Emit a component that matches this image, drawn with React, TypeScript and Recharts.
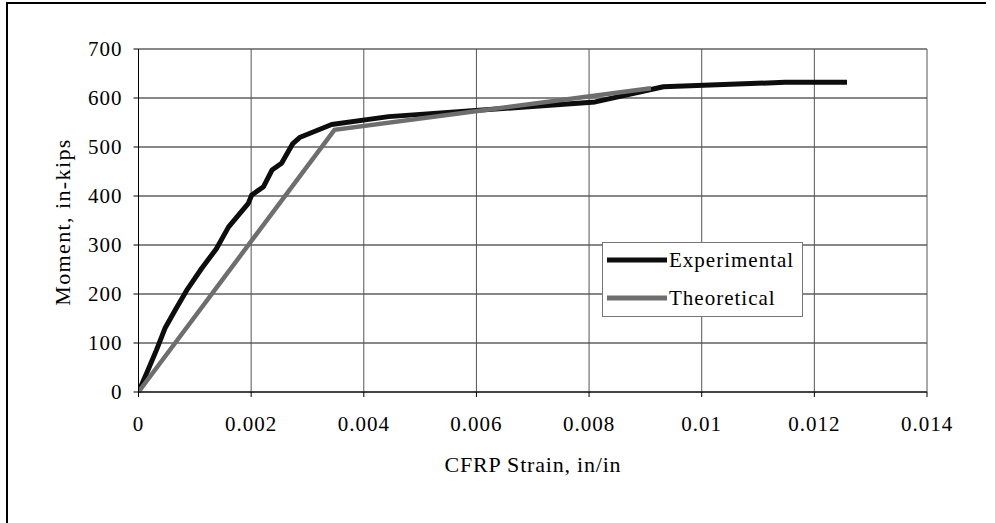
import React from 'react';
import { LineChart, Line, XAxis, YAxis, CartesianGrid } from 'recharts';

const expStrain = [0, 0.00015, 0.00032, 0.00047, 0.00065, 0.00087, 0.00112, 0.00138, 0.0016, 0.00195, 0.00201, 0.00222, 0.00237, 0.00254, 0.00274, 0.00287, 0.00343, 0.00444, 0.00811, 0.00932, 0.01148, 0.01258];
const expMoment = [0, 40, 86, 130, 167, 210, 252, 292, 337, 385, 402, 419, 453, 467, 507, 520, 546, 562, 592, 623, 632, 632];
const theoStrain = [0, 0.00348, 0.0091];
const theoMoment = [0, 535, 620];
const xTicks = [0, 0.002, 0.004, 0.006, 0.008, 0.01, 0.012, 0.014];
const yTicks = [0, 100, 200, 300, 400, 500, 600, 700];
const seriesNames = ['Experimental', 'Theoretical'];

const expData = expStrain.map((x, i) => ({ x, y: expMoment[i] }));
const theoData = theoStrain.map((x, i) => ({ x, y: theoMoment[i] }));

const FONT = '"Liberation Serif", "Times New Roman", serif';

const XTitle = () => (
  <text x={533} y={472} textAnchor="middle" fontFamily={FONT} fontSize={22} letterSpacing={0.8} fill="#000">
    CFRP Strain, in/in
  </text>
);

const YTitle = () => (
  <text x={70} y={222} transform="rotate(-90 70 222)" textAnchor="middle" fontFamily={FONT} fontSize={22} letterSpacing={1.4} fill="#000">
    Moment, in-kips
  </text>
);

const LegendBox = () => (
  <svg width={201} height={75} style={{ display: 'block' }}>
    <rect x={0.5} y={0.5} width={200} height={74} fill="#fff" stroke="#777" strokeWidth={1} />
    <line x1={5} y1={18} x2={65} y2={18} stroke="#0d0d0d" strokeWidth={5} />
    <line x1={5} y1={56} x2={65} y2={56} stroke="#6e6e6e" strokeWidth={5} />
    <text x={67} y={25} fontFamily={FONT} fontSize={21} letterSpacing={1} fill="#000">{seriesNames[0]}</text>
    <text x={67} y={63} fontFamily={FONT} fontSize={21} letterSpacing={1} fill="#000">{seriesNames[1]}</text>
  </svg>
);

export default function App() {
  return (
    <div style={{ position: 'absolute', left: 0, top: 0, width: 995, height: 523, background: '#fff' }}>
      <div style={{ position: 'absolute', left: 6, top: 2, width: 980, height: 2, background: '#000' }} />
      <div style={{ position: 'absolute', left: 6, top: 2, width: 2, height: 521, background: '#000' }} />
      <div style={{ position: 'absolute', left: 0, top: 0 }}>
        <LineChart
          width={995}
          height={523}
          margin={{ top: 49, right: 68, bottom: 48, left: 48.5 }}
        >
          <CartesianGrid vertical={false} stroke="#111" strokeWidth={1} />
          <CartesianGrid horizontal={false} stroke="#555" strokeWidth={1} />
          <XAxis
            dataKey="x"
            type="number"
            domain={[0, 0.014]}
            ticks={xTicks}
            tickFormatter={(v: number) => String(v)}
            allowDataOverflow
            height={83}
            stroke="#000"
            tickSize={5}
            tickMargin={19}
            tick={{ fill: '#000', fontFamily: FONT, fontSize: 21, letterSpacing: 1 }}
            label={<XTitle />}
          />
          <YAxis
            dataKey="y"
            type="number"
            domain={[0, 700]}
            ticks={yTicks}
            width={90}
            stroke="#000"
            tickSize={5}
            tickMargin={11}
            tick={{ fill: '#000', fontFamily: FONT, fontSize: 21, letterSpacing: 1 }}
            label={<YTitle />}
          />
          <Line
            data={expData}
            dataKey="y"
            name={seriesNames[0]}
            stroke="#0d0d0d"
            strokeWidth={5}
            dot={false}
            isAnimationActive={false}
            strokeLinejoin="round"
          />
          <Line
            data={theoData}
            dataKey="y"
            name={seriesNames[1]}
            stroke="#6e6e6e"
            strokeWidth={4.5}
            dot={false}
            isAnimationActive={false}
          />
        </LineChart>
      </div>
      <div style={{ position: 'absolute', left: 602, top: 242 }}>
        <LegendBox />
      </div>
    </div>
  );
}
